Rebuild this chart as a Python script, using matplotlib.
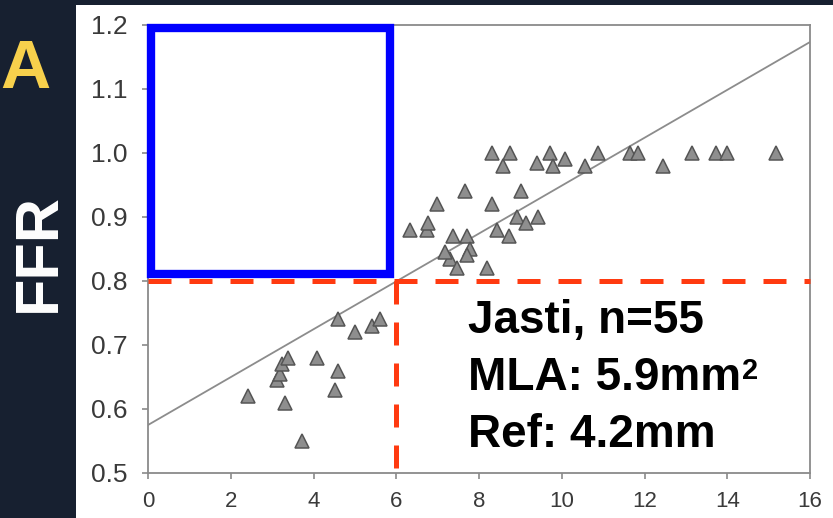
import matplotlib
matplotlib.use("Agg")
import matplotlib.pyplot as plt
from matplotlib.patches import Rectangle

# ---- data ----
mla = [2.42, 3.12, 3.20, 3.24, 3.38, 3.31, 3.72, 4.08, 4.59, 4.52, 4.59, 5.00, 5.41, 5.60,
       6.33, 6.74, 6.76, 6.98, 7.37, 7.66, 7.71, 7.78, 7.71, 7.29, 7.46, 7.17, 8.19, 8.31,
       8.43, 8.72, 8.91, 9.13, 9.42, 9.01,
       8.31, 8.74, 8.57, 9.40, 9.71, 9.78, 10.07, 10.56, 10.87, 11.64, 11.84, 12.44,
       13.14, 13.74, 13.99, 15.19]
ffr = [0.62, 0.645, 0.655, 0.67, 0.68, 0.61, 0.55, 0.68, 0.66, 0.63, 0.74, 0.72, 0.73, 0.74,
       0.88, 0.88, 0.89, 0.92, 0.87, 0.94, 0.87, 0.85, 0.84, 0.835, 0.82, 0.845, 0.82, 0.92,
       0.88, 0.87, 0.90, 0.89, 0.90, 0.94,
       1.00, 1.00, 0.98, 0.985, 1.00, 0.98, 0.99, 0.98, 1.00, 1.00, 1.00, 0.98,
       1.00, 1.00, 1.00, 1.00]
fit_intercept = 0.575
fit_slope = 0.0374
cut_mla = 6.0
cut_ffr = 0.8
box = (0.07, 0.811, 5.86, 1.195)  # x0, y0, x1, y1 of blue zone
xticks = [0, 2, 4, 6, 8, 10, 12, 14, 16]
yticks = [0.5, 0.6, 0.7, 0.8, 0.9, 1.0, 1.1, 1.2]
note1 = "Jasti, n=55"
note2 = "MLA: 5.9mm"
note2_sup = "2"
note3 = "Ref: 4.2mm"
panel_label = "A"
ylabel = "FFR"

W, H = 833, 518
fig = plt.figure(figsize=(W / 100, H / 100), dpi=100, facecolor="white")
plt.rcParams['font.family'] = ['Liberation Sans', 'DejaVu Sans']

navy = "#172030"
# left navy strip and thin top strip
fig.patches.append(Rectangle((0, 0), 76 / W, 1, transform=fig.transFigure,
                             facecolor=navy, edgecolor="none", zorder=0))
fig.patches.append(Rectangle((0, 1 - 5 / H), 1, 5 / H, transform=fig.transFigure,
                             facecolor=navy, edgecolor="none", zorder=0))

fig.text(25 / W, 1 - 88 / H, panel_label, color="#F7D04C", fontsize=50,
         fontweight="bold", ha="center", va="baseline")
fig.text(39 / W, 1 - 252 / H, ylabel, color="white", fontsize=44,
         fontweight="bold", rotation=90, ha="center", va="center")

ax = fig.add_axes([148 / W, 45 / H, (810 - 148) / W, (473 - 25) / H])
ax.set_xlim(0, 16)
ax.set_ylim(0.5, 1.2)
ax.set_facecolor("white")
for s in ax.spines.values():
    s.set_color("#8a8a8a")
    s.set_linewidth(1.3)

ax.set_xticks(xticks)
ax.set_yticks(yticks)
ax.set_xticklabels([str(t) for t in xticks])
ax.set_yticklabels([f"{t:.1f}" for t in yticks])
ax.tick_params(axis="both", direction="out", length=4, width=1.2, color="#8a8a8a",
               labelcolor="#3a3a3a")
ax.tick_params(axis="y", labelsize=19, pad=11)
ax.tick_params(axis="x", labelsize=16, pad=9)

# regression line
ax.plot([0, 16], [fit_intercept, fit_intercept + fit_slope * 16], color="#8c8c8c",
        lw=1.3, zorder=2)

# data triangles
ax.plot(mla, ffr, linestyle="none", marker="^", ms=10, markerfacecolor="#8e8e8e",
        markeredgecolor="#555555", markeredgewidth=1.1, zorder=3)

# blue zone box
ax.add_patch(Rectangle((box[0], box[1]), box[2] - box[0], box[3] - box[1],
                       fill=False, edgecolor="#0000FF", lw=6, zorder=5, clip_on=False))

# red dashed cut-off lines
red = "#FF3A10"
ax.plot([0, 16], [cut_ffr, cut_ffr], color=red, lw=3.6,
        linestyle=(0, (4.6, 3.6)), zorder=6, clip_on=False, dash_capstyle="butt")
ax.plot([cut_mla, cut_mla], [cut_ffr, 0.5], color=red, lw=3.6,
        linestyle=(0, (4.6, 3.6)), zorder=6, clip_on=False, dash_capstyle="butt")

# annotation text
tkw = dict(fontsize=33, fontweight="bold", color="black", ha="left",
           va="baseline", zorder=7)
ax.text(7.73, 0.719, note1, **tkw)
t2 = ax.text(7.73, 0.630, note2, **tkw)
ax.text(7.73, 0.541, note3, **tkw)
ax.annotate(note2_sup, xy=(1.0, 1.0), xycoords=t2, xytext=(1, -1),
            textcoords="offset points", fontsize=21, fontweight="bold",
            color="black", ha="left", va="top", zorder=7)

fig.savefig("out.png", dpi=100, facecolor="white")
